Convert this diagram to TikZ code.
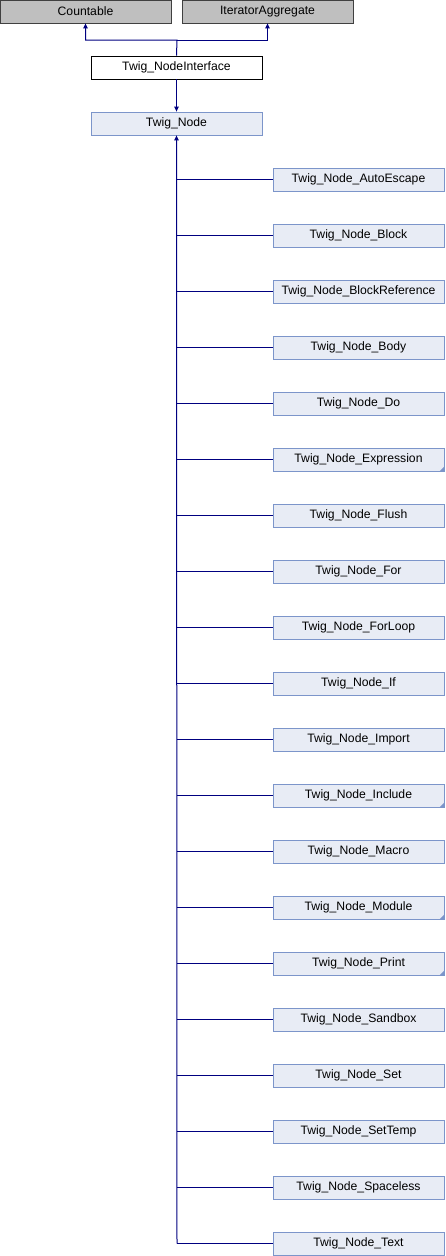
\documentclass[tikz,border=0pt]{standalone}
\usepackage{fontspec}
\setmainfont{Liberation Sans}
\usetikzlibrary{arrows.meta,positioning}
\definecolor{edgeblue}{HTML}{000080}
\definecolor{clsfill}{HTML}{E8ECF5}
\definecolor{clsline}{HTML}{7C95CA}
\definecolor{extfill}{HTML}{BFBFBF}
\definecolor{extline}{HTML}{404040}

\begin{document}
\begin{tikzpicture}[
            x=1pt, y=-1pt,
            font=\fontsize{12.2}{14}\selectfont,
            box/.style={draw, minimum width=171pt, minimum height=23pt, inner sep=0pt, line width=0.8pt, anchor=center},
            ext/.style={box, fill=extfill, draw=extline},
            iface/.style={box, fill=white, draw=black},
            cls/.style={box, fill=clsfill, draw=clsline},
            link/.style={draw=edgeblue, line width=1pt},
            >={Triangle[length=5pt,width=4.5pt]}
        ]
        \useasboundingbox (0,0) rectangle (445,1256);

        \node[ext] (countable) at (85.5,11.5) {Countable};
        \node[ext] (iteragg) at (267.5,11.5) {IteratorAggregate};
        \node[iface] (nodeiface) at (176.5,67.5) {Twig\_NodeInterface};
        \node[cls] (twignode) at (176.5,123.5) {Twig\_Node};

        \coordinate (join) at (177,40);
        \draw[link,->] (nodeiface.north) -- (join) -| (countable.south);
        \draw[link,->] (join) -| (iteragg.south);
        \draw[link,->] (nodeiface.south) -- (twignode.north);

        % derived classes
        \foreach \name [count=\i] in {AutoEscape, Block, BlockReference, Body, Do,
            Expression, Flush, For, ForLoop, If, Import, Include, Macro, Module,
            Print, Sandbox, Set, SetTemp, Spaceless, Text} {
            \node[cls] (c\i) at (358.5,{179.5+56*(\i-1)}) {Twig\_Node\_\name};
            \coordinate (t\i) at (177,{179.5+56*(\i-1)});
            \draw[link] (t\i) -- (c\i.west);
        }
        \draw[link,->] (t20) -- (twignode.south);

        % folded corners (classes with more children)
        \foreach \i in {6,12,14,15} {
            \fill[clsline] (c\i.south east) -- ++(-5,0) -- ++(5,-5) -- cycle;
        }
    \end{tikzpicture}
\end{document}
